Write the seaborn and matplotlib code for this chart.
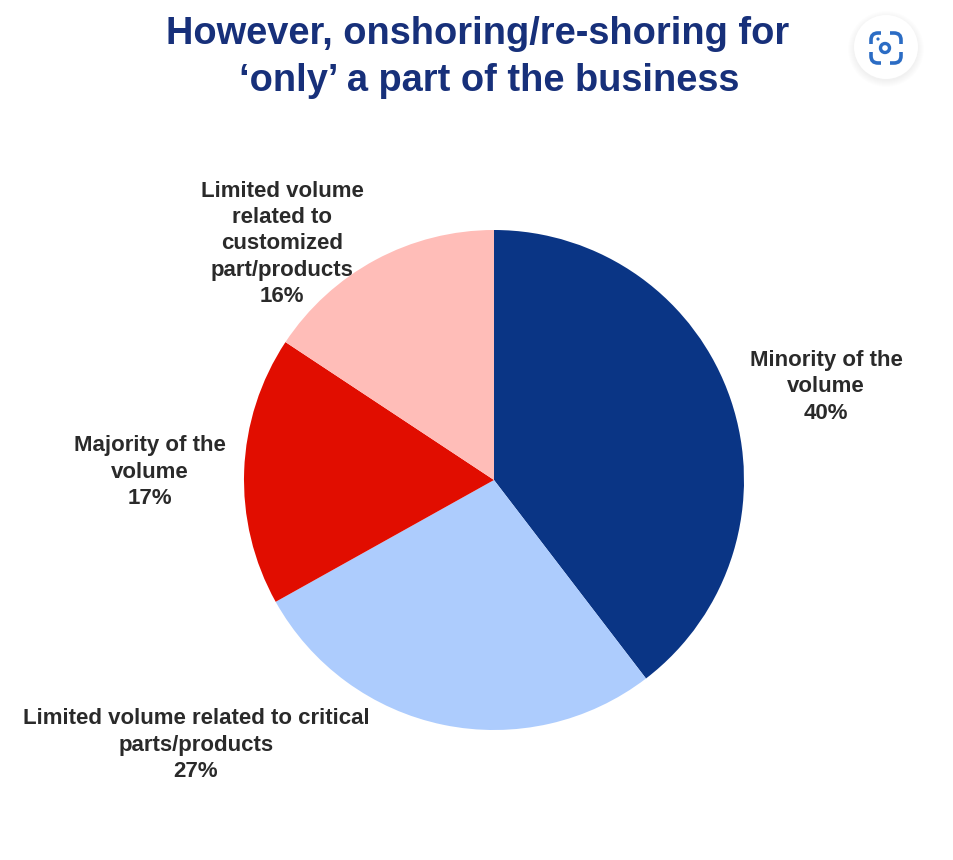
import matplotlib
matplotlib.use('Agg')
import matplotlib.pyplot as plt
import seaborn as sns
from matplotlib.patches import Circle, FancyBboxPatch, Rectangle

TITLE_LINES = ["However, onshoring/re-shoring for", "\u2018only\u2019 a part of the business"]
categories = ["Minority of the\nvolume", "Limited volume related to critical\nparts/products",
              "Majority of the\nvolume", "Limited volume\nrelated to\ncustomized\npart/products"]
# slice sizes, labels as printed on it
shares = [39.6, 27.3, 17.4, 15.7]
printed = ["40%", "27%", "17%", "16%"]
colors = ["#0A3585", "#ADCCFD", "#E10D00", "#FFBDB8"]

sns.set_theme(style="white")
plt.rcParams['font.family'] = ['Liberation Sans', 'DejaVu Sans']

W, H = 954, 860
fig = plt.figure(figsize=(W / 100, H / 100), dpi=100, facecolor='white')

# pie centre at about (494, 480), radius 250 px
ax = fig.add_axes([(494 - 250) / W, 1 - (480 + 250) / H, 500 / W, 500 / H])
ax.pie(shares, colors=colors, startangle=90, counterclock=False, radius=1.0,
       wedgeprops={'linewidth': 0})
ax.set_xlim(-1, 1)
ax.set_ylim(-1, 1)

# second title line sits a little right of the first
for line, px, py in zip(TITLE_LINES, [478, 489], [34, 81]):
    fig.text(px / W, 1 - py / H, line, ha='center', va='center', fontsize=27.4, fontweight='bold',
             color='#17307A')

# label centres in pixels
label_pos = [(826, 387), (196, 745), (150, 472), (282, 244)]
for cat, val, (px, py) in zip(categories, printed, label_pos):
    fig.text(px / W, 1 - py / H, f"{cat}\n{val}", ha='center', va='center', fontsize=16,
             fontweight='bold', color='#2A2A2A', linespacing=1.33)

# lens button, top right corner
overlay = fig.add_axes([0, 0, 1, 1], facecolor='none')
overlay.set_xlim(0, W)
overlay.set_ylim(H, 0)
overlay.axis('off')
for r in range(38, 31, -1):
    overlay.add_patch(Circle((886, 49), r, facecolor='#000000', edgecolor='none', alpha=0.006))
overlay.add_patch(Circle((886, 47), 32, facecolor='white', edgecolor='none'))
overlay.add_patch(FancyBboxPatch((871, 33), 30, 30, boxstyle="round,pad=0,rounding_size=7",
                                 facecolor='none', edgecolor='#2B6CC4', linewidth=2.6))
overlay.add_patch(Rectangle((881, 28), 9, 40, facecolor='white', edgecolor='none'))
overlay.add_patch(Rectangle((866, 44), 40, 8, facecolor='white', edgecolor='none'))
overlay.add_patch(Circle((885, 48), 4.5, facecolor='none', edgecolor='#2B6CC4', linewidth=2.4))
overlay.add_patch(Circle((878, 39), 1.6, facecolor='#2B6CC4', edgecolor='none'))

fig.savefig('out.png', dpi=100)
